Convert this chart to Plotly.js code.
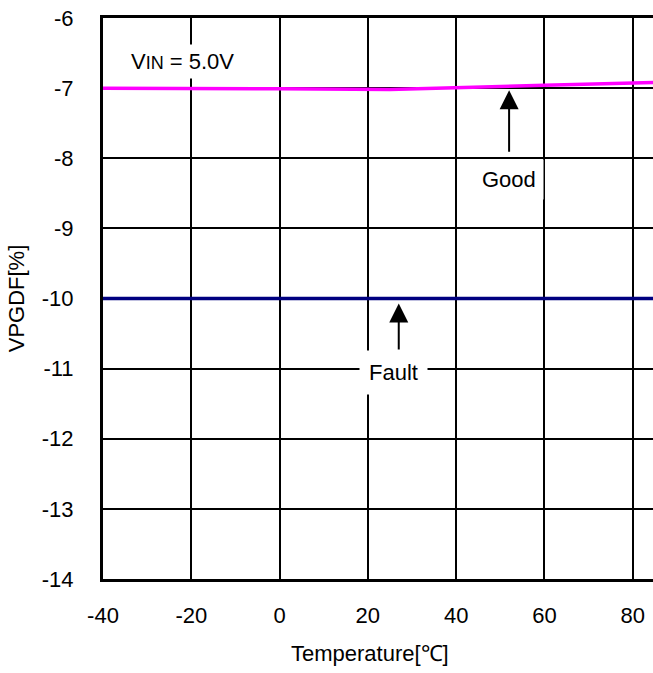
<!DOCTYPE html>
<html>
<head>
<meta charset="utf-8">
<script src="https://cdn.plot.ly/plotly-3.0.1.min.js"></script>
<style>html,body{margin:0;padding:0;background:#fff;}#chart{width:653px;height:673px;}</style>
</head>
<body>
<div id="chart"></div>
<script>
// Data
var temperature = [-40, -20, 0, 25, 40, 60, 85];
var goodThreshold = [-7.0, -7.0, -7.01, -7.02, -6.99, -6.96, -6.92];
var faultThreshold = [-10.0, -10.0, -10.0, -10.0, -10.0, -10.0, -10.0];
var xTicks = [-40, -20, 0, 20, 40, 60, 80];
var yTicks = [-14, -13, -12, -11, -10, -9, -8, -7, -6];

var FONT = 'Liberation Sans, Arial, sans-serif';
var FS = 22;

var traces = [
  {x: temperature, y: goodThreshold, mode: 'lines', line: {color: '#ff00ff', width: 3.5}, name: 'Good', hoverinfo: 'skip'},
  {x: temperature, y: faultThreshold, mode: 'lines', line: {color: '#000080', width: 3.5}, name: 'Fault', hoverinfo: 'skip'}
];

var layout = {
  width: 653, height: 673,
  margin: {l: 103, r: 0, t: 18, b: 94},
  paper_bgcolor: '#fff', plot_bgcolor: '#fff',
  showlegend: false,
  font: {family: FONT, size: FS, color: '#000'},
  xaxis: {
    range: [-40, 84.6], tickvals: xTicks, ticktext: xTicks.map(String),
    showgrid: true, gridcolor: '#000', gridwidth: 2,
    showline: true, linecolor: '#000', linewidth: 3, mirror: true,
    zeroline: false, ticks: '', ticklabelstandoff: 15,
    tickfont: {family: FONT, size: FS, color: '#000'}
  },
  yaxis: {
    range: [-14, -6], tickvals: yTicks, ticktext: yTicks.map(String),
    showgrid: true, gridcolor: '#000', gridwidth: 2,
    showline: true, linecolor: '#000', linewidth: 3, mirror: false,
    zeroline: false, ticks: '', ticklabelstandoff: 22,
    tickfont: {family: FONT, size: FS, color: '#000'},
    title: {text: 'VPGDF[%]', font: {family: FONT, size: FS, color: '#000'}, standoff: 12}
  },
  annotations: [
    {xref: 'paper', yref: 'paper', x: 0, y: -0.107, xanchor: 'center', yanchor: 'top',
     text: 'Temperature[℃]', showarrow: false, font: {family: FONT, size: FS, color: '#000'}},
    {x: -34.9, y: -6.62, xanchor: 'left', yanchor: 'middle', showarrow: false,
     text: 'V<span style="font-size:18px">IN</span> = 5.0V', bgcolor: '#fff', borderpad: 4,
     font: {family: FONT, size: FS, color: '#000'}},
    {x: 52, y: -7.03, ax: 52, ay: -7.93, axref: 'x', ayref: 'y', text: '', showarrow: true,
     arrowhead: 2, arrowsize: 1.9, arrowwidth: 2, arrowcolor: '#000', standoff: 0, startstandoff: 0},
    {x: 52, y: -8.31, showarrow: false, text: 'Good', bgcolor: '#fff', borderpad: 7,
     font: {family: FONT, size: FS, color: '#000'}},
    {x: 27, y: -10.07, ax: 27, ay: -10.75, axref: 'x', ayref: 'y', text: '', showarrow: true,
     arrowhead: 2, arrowsize: 1.9, arrowwidth: 2, arrowcolor: '#000', standoff: 0, startstandoff: 0},
    {x: 25.7, y: -11.05, showarrow: false, text: 'Fault', bgcolor: '#fff', borderpad: 9,
     font: {family: FONT, size: FS, color: '#000'}}
  ]
};

// x title annotation centered at ~370px
layout.annotations[0].x = (370 - 103) / (653 - 103);

Plotly.newPlot('chart', traces, layout, {staticPlot: true, displayModeBar: false});
</script>
</body>
</html>
